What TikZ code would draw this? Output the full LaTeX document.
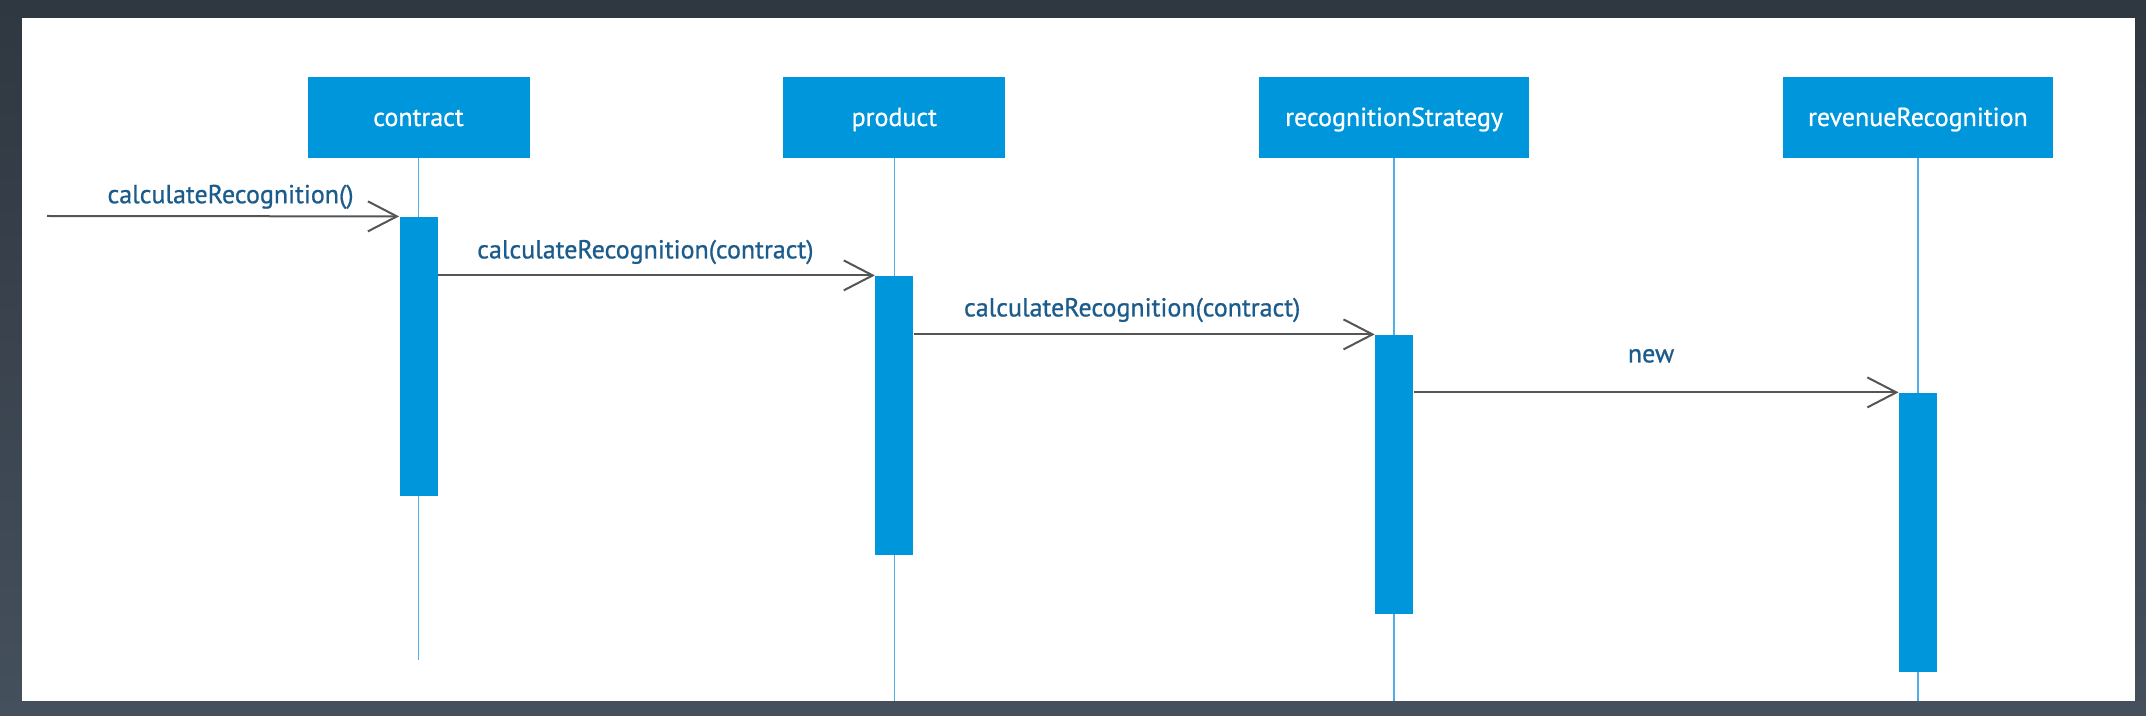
\documentclass[tikz,border=0pt]{standalone}
\usepackage{fontspec}
\setmainfont{PT Sans}
\newfontfamily\diagfont{PT Sans}[FakeBold=0.8]
\usepackage{tikz}
\usetikzlibrary{arrows.meta,backgrounds,positioning}
\definecolor{umlblue}{HTML}{0096DC}
\definecolor{lifeblue}{HTML}{4FAEE6}
\definecolor{msggray}{HTML}{555555}
\definecolor{msgtext}{HTML}{1B5C8C}
\definecolor{frametop}{HTML}{2F3740}
\definecolor{framebottom}{HTML}{45505D}
\tikzset{
  objbox/.style={
    fill=umlblue,
    text=white,
    minimum width=111pt,
    minimum height=40.5pt,
    text height=11.5pt,
    text depth=3pt,
    inner sep=0pt,
    font=\diagfont\fontsize{13pt}{15pt}\selectfont
  },
  widebox/.style={
    objbox,
    minimum width=135pt
  },
  actbar/.style={
    fill=umlblue,
    minimum width=19pt,
    minimum height=139.5pt,
    inner sep=0pt
  },
  lifeline/.style={
    draw=lifeblue,
    line width=0.75pt
  },
  msgarrow/.style={
    -{Straight Barb[length=14.5pt,width=15pt]},
    line width=1pt,
    draw=msggray
  },
  msglabel/.style={
    text=msgtext,
    inner sep=0pt,
    anchor=base,
    font=\diagfont\fontsize{13pt}{15pt}\selectfont
  }
}
\begin{document}
\begin{tikzpicture}[x=0.5pt,y=-0.5pt,node distance=126.5pt]
  \node[objbox] (contract) at (418.5,117.5) {contract};
  \node[objbox, right=of contract] (product) {product};
  \node[widebox, right=of product] (strategy) {recognitionStrategy};
  \node[widebox, right=of strategy] (revenue) {revenueRecognition};

  \node[actbar, below=29pt of contract] (actc) {};
  \node[actbar, below=58.5pt of product] (actp) {};
  \node[actbar, below=88pt of strategy] (acts) {};
  \node[actbar, below=117pt of revenue] (actr) {};

  \coordinate (caller) at (47,216);

  \draw[msgarrow] (caller) -- (actc.north west)
    node[msglabel, midway, xshift=3.75pt, yshift=6.5pt] (m1) {calculateRecognition()};
  \draw[msgarrow] (actc.east |- actp.north) -- (actp.north west)
    node[msglabel, midway, xshift=-5.5pt, yshift=8.5pt] (m2) {calculateRecognition(contract)};
  \draw[msgarrow] (actp.east |- acts.north) -- (acts.north west)
    node[msglabel, midway, xshift=-6pt, yshift=9pt] (m3) {calculateRecognition(contract)};
  \draw[msgarrow] (acts.east |- actr.north) -- (actr.north west)
    node[msglabel, midway, xshift=-2.5pt, yshift=15pt] (m4) {new};

  \begin{scope}[on background layer]
    \fill[top color=frametop, bottom color=framebottom] (0,0) rectangle (2146,716);
    \fill[white] (22,18) rectangle (2135,701);
    \draw[lifeline] (contract) -- (contract |- 0,660);
    \draw[lifeline] (product) -- (product |- 0,701);
    \draw[lifeline] (strategy) -- (strategy |- 0,701);
    \draw[lifeline] (revenue) -- (revenue |- 0,701);
  \end{scope}
\end{tikzpicture}
\end{document}
